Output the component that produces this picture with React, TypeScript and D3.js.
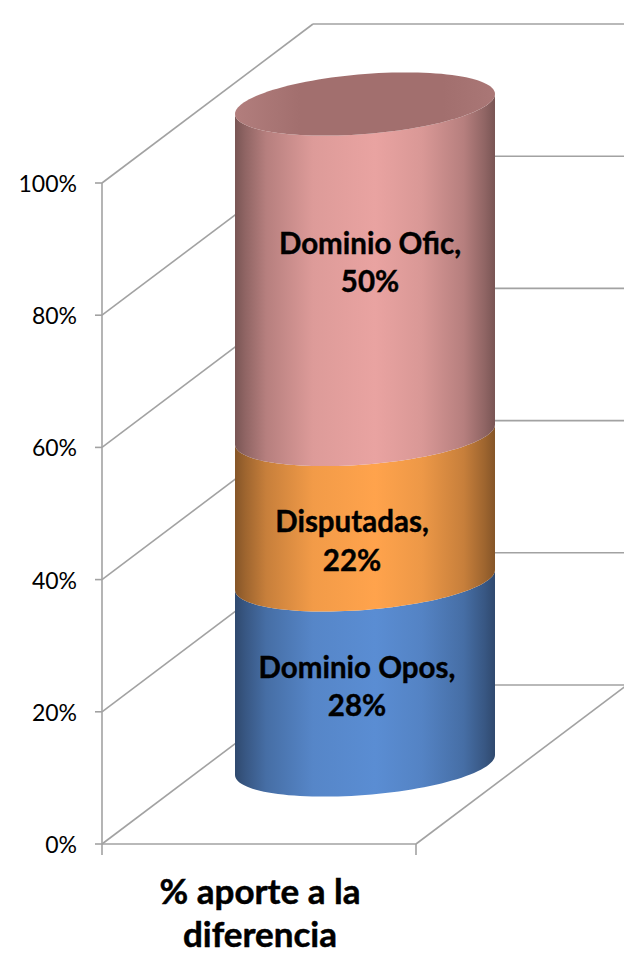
import React from "react";
import * as d3 from "d3";

const ticks = [0, 20, 40, 60, 80, 100];
const seriesNames = ["Dominio Opos", "Disputadas", "Dominio Ofic"];
const seriesValues = [28, 22, 50];
const categoryLines = ["% aporte a la", "diferencia"];

const W = 624, H = 953;
const FONT = "Lato, Carlito, Calibri, sans-serif";
const GRID = "#a2a2a2";
const y = d3.scaleLinear().domain([0, 100]).range([844, 183]);
const x0 = 102, x1 = 416;
const depth = { dx: 211, dy: -159 };
const cyl = { left: 235, right: 495, lift: 79, a: 30, b: -10 };
const gradStops = [
  { o: 0, k: 0.52 }, { o: 0.04, k: 0.62 }, { o: 0.12, k: 0.78 }, { o: 0.3, k: 0.95 },
  { o: 0.54, k: 1 }, { o: 0.72, k: 0.93 }, { o: 0.88, k: 0.78 }, { o: 0.96, k: 0.62 }, { o: 1, k: 0.52 },
];
const baseColors = ["#5a8dd3", "#ffa34c", "#e9a3a1"];
const capColor = "#a26f6e";
const labelLayout = [
  { x: 357, y1: 678, y2: 716 },
  { x: 352, y1: 532, y2: 571 },
  { x: 370, y1: 254, y2: 292 },
];

const cx = (cyl.left + cyl.right) / 2, rx = (cyl.right - cyl.left) / 2;
const ang = d3.range(0, 61).map((i) => (i / 60) * Math.PI);
const pt = (v: number, t: number): [number, number] => [
  cx + rx * Math.cos(t),
  y(v) - cyl.lift + cyl.a * Math.sin(t) + cyl.b * Math.cos(t),
];
const line = d3.line();
const scale = (hex: string, k: number) => {
  const c = d3.rgb(hex);
  return d3.rgb(c.r * k, c.g * k, c.b * k).formatHex();
};

export default function App() {
  const stack = d3.cumsum(seriesValues);
  const lows = [0, ...stack.slice(0, -1)];
  const capFull = d3.range(0, 121).map((i) => pt(100, (i / 120) * 2 * Math.PI));
  return (
    <svg width={W} height={H} style={{ position: "fixed", left: 0, top: 0, background: "#fff" }}>
      <defs>
        {baseColors.map((c, i) => (
          <linearGradient key={i} id={`g${i}`} gradientUnits="userSpaceOnUse" x1={cyl.left} x2={cyl.right} y1={0} y2={0}>
            {gradStops.map((s) => <stop key={s.o} offset={s.o} stopColor={scale(c, s.k)} />)}
          </linearGradient>
        ))}
        <linearGradient id="cap" gradientUnits="userSpaceOnUse" x1={cyl.left} x2={cyl.right} y1={0} y2={0}>
          <stop offset={0} stopColor="#b27e7d" />
          <stop offset={0.25} stopColor={capColor} />
          <stop offset={0.8} stopColor={capColor} />
          <stop offset={1} stopColor="#aa7776" />
        </linearGradient>
      </defs>

      {/* walls and grid */}
      <g stroke={GRID} strokeWidth={1.6} fill="none">
        <line x1={x0} x2={x0} y1={y(0) + 11} y2={y(100)} />
        <line x1={x1} x2={x1} y1={y(0)} y2={y(0) + 11} />
        <line x1={x0} x2={x1} y1={y(0)} y2={y(0)} />
        <line x1={x1} x2={x1 + depth.dx} y1={y(0)} y2={y(0) + depth.dy} />
        {ticks.map((t) => (
          <g key={t}>
            <line x1={x0 - 7} x2={x0} y1={y(t)} y2={y(t)} />
            <line x1={x0} x2={x0 + depth.dx} y1={y(t)} y2={y(t) + depth.dy} />
            <line x1={x0 + depth.dx} x2={W} y1={y(t) + depth.dy} y2={y(t) + depth.dy} />
          </g>
        ))}
      </g>
      {ticks.map((t) => (
        <text key={t} x={77} y={y(t) + 9} textAnchor="end" fontFamily={FONT} fontSize={23} fill="#000">{t}%</text>
      ))}

      {/* cylinder */}
      {seriesValues.map((_, i) => {
        const bottom = ang.map((t) => pt(lows[i], t));
        const top = ang.map((t) => pt(stack[i], t)).reverse();
        return <path key={i} d={line([...bottom, ...top])! + "Z"} fill={`url(#g${i})`} />;
      })}
      <path d={line(capFull)! + "Z"} fill="url(#cap)" />

      {seriesNames.map((n, i) => (
        <g key={n} fontFamily={FONT} fontWeight={700} fontSize={29.5} textAnchor="middle" fill="#000" stroke="#000" strokeWidth={0.4}>
          <text x={labelLayout[i].x} y={labelLayout[i].y1}>{n},</text>
          <text x={labelLayout[i].x} y={labelLayout[i].y2}>{seriesValues[i]}%</text>
        </g>
      ))}

      {categoryLines.map((l, i) => (
        <text key={l} x={260} y={904 + i * 43} textAnchor="middle" fontFamily={FONT} fontWeight={700} fontSize={35} fill="#000" stroke="#000" strokeWidth={0.5}>{l}</text>
      ))}
    </svg>
  );
}
